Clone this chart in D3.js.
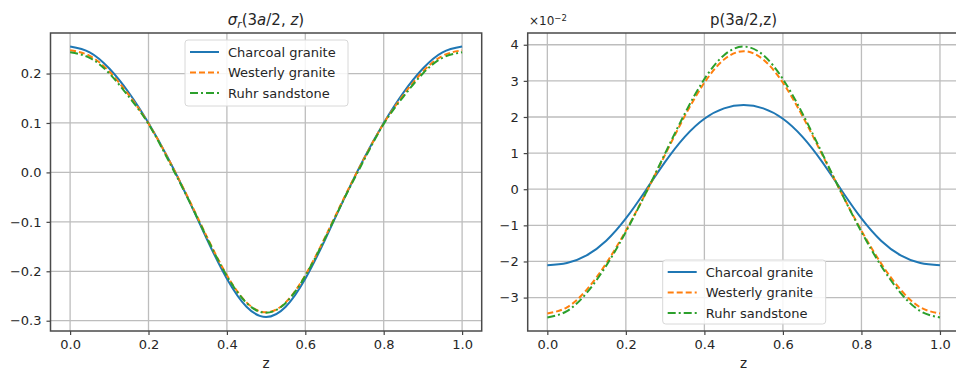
<!DOCTYPE html>
<html><head><meta charset="utf-8">
<script src="https://cdn.jsdelivr.net/npm/d3@7"></script>
<style>
body{margin:0;background:#fff;}
text{font-family:"DejaVu Sans",sans-serif;fill:#262626;}
</style></head>
<body><svg id="c" width="956" height="374"></svg>
<script>
// ---- data ----
const z = [0,0.05,0.1,0.15,0.2,0.25,0.3,0.35,0.4,0.45,0.5,0.55,0.6,0.65,0.7,0.75,0.8,0.85,0.9,0.95,1.0];
const seriesNames = ["Charcoal granite","Westerly granite","Ruhr sandstone"];
// sigma_r(3a/2, z)
const sigmaCharcoal = [0.2545,0.2429,0.2101,0.1611,0.1000,0.0288,-0.0516,-0.1367,-0.2151,-0.2717,-0.2925,-0.2717,-0.2151,-0.1367,-0.0516,0.0288,0.1000,0.1611,0.2101,0.2429,0.2545];
const sigmaWesterly = [0.2470,0.2358,0.2040,0.1565,0.0990,0.0283,-0.0496,-0.1320,-0.2080,-0.2629,-0.2830,-0.2629,-0.2080,-0.1320,-0.0496,0.0283,0.0990,0.1565,0.2040,0.2358,0.2470];
const sigmaRuhr = [0.2430,0.2318,0.2002,0.1530,0.0980,0.0255,-0.0519,-0.1339,-0.2094,-0.2640,-0.2840,-0.2640,-0.2094,-0.1339,-0.0519,0.0255,0.0980,0.1530,0.2002,0.2318,0.2430];
// p(3a/2, z) in units of 1e-2
const pCharcoal = [-2.106,-2.044,-1.833,-1.427,-0.810,-0.042,0.755,1.448,1.950,2.238,2.330,2.238,1.950,1.448,0.755,-0.042,-0.810,-1.427,-1.833,-2.044,-2.106];
const pWesterly = [-3.440,-3.270,-2.786,-2.053,-1.146,-0.124,0.958,2.023,2.949,3.590,3.820,3.590,2.949,2.023,0.958,-0.124,-1.146,-2.053,-2.786,-3.270,-3.440];
const pRuhr = [-3.550,-3.374,-2.874,-2.118,-1.180,-0.124,0.994,2.093,3.050,3.712,3.950,3.712,3.050,2.093,0.994,-0.124,-1.180,-2.118,-2.874,-3.374,-3.550];
const xTicks = [0,0.2,0.4,0.6,0.8,1.0];
const yTicksLeft = [-0.3,-0.2,-0.1,0.0,0.1,0.2];
const yTicksRight = [-3,-2,-1,0,1,2,3,4];

const colors = ["#1f77b4","#ff7f0e","#2ca02c"];
const dashes = [null,"6,3","8,3,2,3"];

const svg = d3.select("#c");

function panel(opts){
  const {x0,x1,y0,y1,ydom,yticks,yfmt,series,legend} = opts;
  const xs = d3.scaleLinear().domain([-0.05,1.05]).range([x0,x1]);
  const ys = d3.scaleLinear().domain(ydom).range([y1,y0]);
  const g = svg.append("g");
  g.append("defs").append("clipPath").attr("id","clip"+Math.round(x0))
    .append("rect").attr("x",x0).attr("y",y0).attr("width",x1-x0).attr("height",y1-y0);
  // grid
  g.selectAll(".gx").data(xTicks).enter().append("line")
    .attr("x1",d=>xs(d)).attr("x2",d=>xs(d)).attr("y1",y0).attr("y2",y1)
    .attr("stroke","#bdbdbd").attr("stroke-width",1.3);
  g.selectAll(".gy").data(yticks).enter().append("line")
    .attr("y1",d=>ys(d)).attr("y2",d=>ys(d)).attr("x1",x0).attr("x2",x1)
    .attr("stroke","#bdbdbd").attr("stroke-width",1.3);
  // axes
  const xa = g.append("g").attr("transform",`translate(0,${y1})`)
    .call(d3.axisBottom(xs).tickValues(xTicks).tickFormat(d3.format(".1f")).tickSize(4).tickPadding(5));
  const ya = g.append("g").attr("transform",`translate(${x0},0)`)
    .call(d3.axisLeft(ys).tickValues(yticks).tickFormat(yfmt).tickSize(4).tickPadding(5));
  [xa,ya].forEach(a=>{
    a.select(".domain").remove();
    a.selectAll("line").attr("stroke","#444").attr("stroke-width",1.2);
    a.selectAll("text").attr("font-size","13px").attr("fill","#333").style("font-family","DejaVu Sans");
  });
  // lines
  const line = d3.line().x((d,i)=>xs(z[i])).y(d=>ys(d)).curve(d3.curveNatural);
  const lg = g.append("g").attr("clip-path",`url(#clip${Math.round(x0)})`);
  series.forEach((s,k)=>{
    lg.append("path").attr("d",line(s)).attr("fill","none")
      .attr("stroke",colors[k]).attr("stroke-width",2)
      .attr("stroke-dasharray",dashes[k]);
  });
  // frame
  g.append("rect").attr("x",x0).attr("y",y0).attr("width",x1-x0).attr("height",y1-y0)
    .attr("fill","none").attr("stroke","#4a4a4a").attr("stroke-width",1.5);
  // x label
  g.append("text").attr("x",(xs(0)+xs(1))/2).attr("y",368).attr("text-anchor","middle")
    .attr("font-size","13.5px").attr("fill","#333").text("z");
  // legend
  const L = legend;
  g.append("rect").attr("x",L.x).attr("y",L.y).attr("width",L.w).attr("height",L.h)
    .attr("rx",3).attr("fill","rgba(255,255,255,0.85)").attr("stroke","#d8d8d8");
  seriesNames.forEach((n,k)=>{
    const yy = L.y + 12 + k*20.5;
    g.append("line").attr("x1",L.x+5).attr("x2",L.x+34).attr("y1",yy).attr("y2",yy)
      .attr("stroke",colors[k]).attr("stroke-width",2).attr("stroke-dasharray",dashes[k]);
    g.append("text").attr("x",L.x+43).attr("y",yy).attr("dy","0.35em")
      .attr("font-size","13px").attr("fill","#333").text(n);
  });
  return {xs,ys,g};
}

const left = panel({x0:50.5,x1:481.7,y0:33,y1:331,ydom:[-0.3208,0.282],yticks:yTicksLeft,
  yfmt:d=>d3.format(".1f")(d).replace("-","\u2212"),
  series:[sigmaCharcoal,sigmaWesterly,sigmaRuhr],
  legend:{x:185,y:40,w:163,h:66}});
const right = panel({x0:527.7,x1:959.6,y0:33,y1:331,ydom:[-3.925,4.325],yticks:yTicksRight,
  yfmt:d=>String(d).replace("-","\u2212"),
  series:[pCharcoal,pWesterly,pRuhr],
  legend:{x:662.7,y:260,w:163,h:64}});

// titles
const t1 = svg.append("text").attr("x",266).attr("y",25).attr("text-anchor","middle").attr("font-size","15px");
t1.append("tspan").attr("font-style","italic").text("σ");
t1.append("tspan").attr("font-style","italic").attr("font-size","10.5px").attr("dy",3).text("r");
t1.append("tspan").attr("dy",-3).text("(3");
t1.append("tspan").attr("font-style","italic").text("a");
t1.append("tspan").text("/2, ");
t1.append("tspan").attr("font-style","italic").text("z");
t1.append("tspan").text(")");

svg.append("text").attr("x",743.5).attr("y",25).attr("text-anchor","middle").attr("font-size","15px").text("p(3a/2,z)");
const ex = svg.append("text").attr("x",529).attr("y",25).attr("font-size","12px").attr("fill","#333");
ex.append("tspan").text("\u00d710");
ex.append("tspan").attr("font-size","8.5px").attr("dy",-4).text("\u22122");
</script></body></html>
